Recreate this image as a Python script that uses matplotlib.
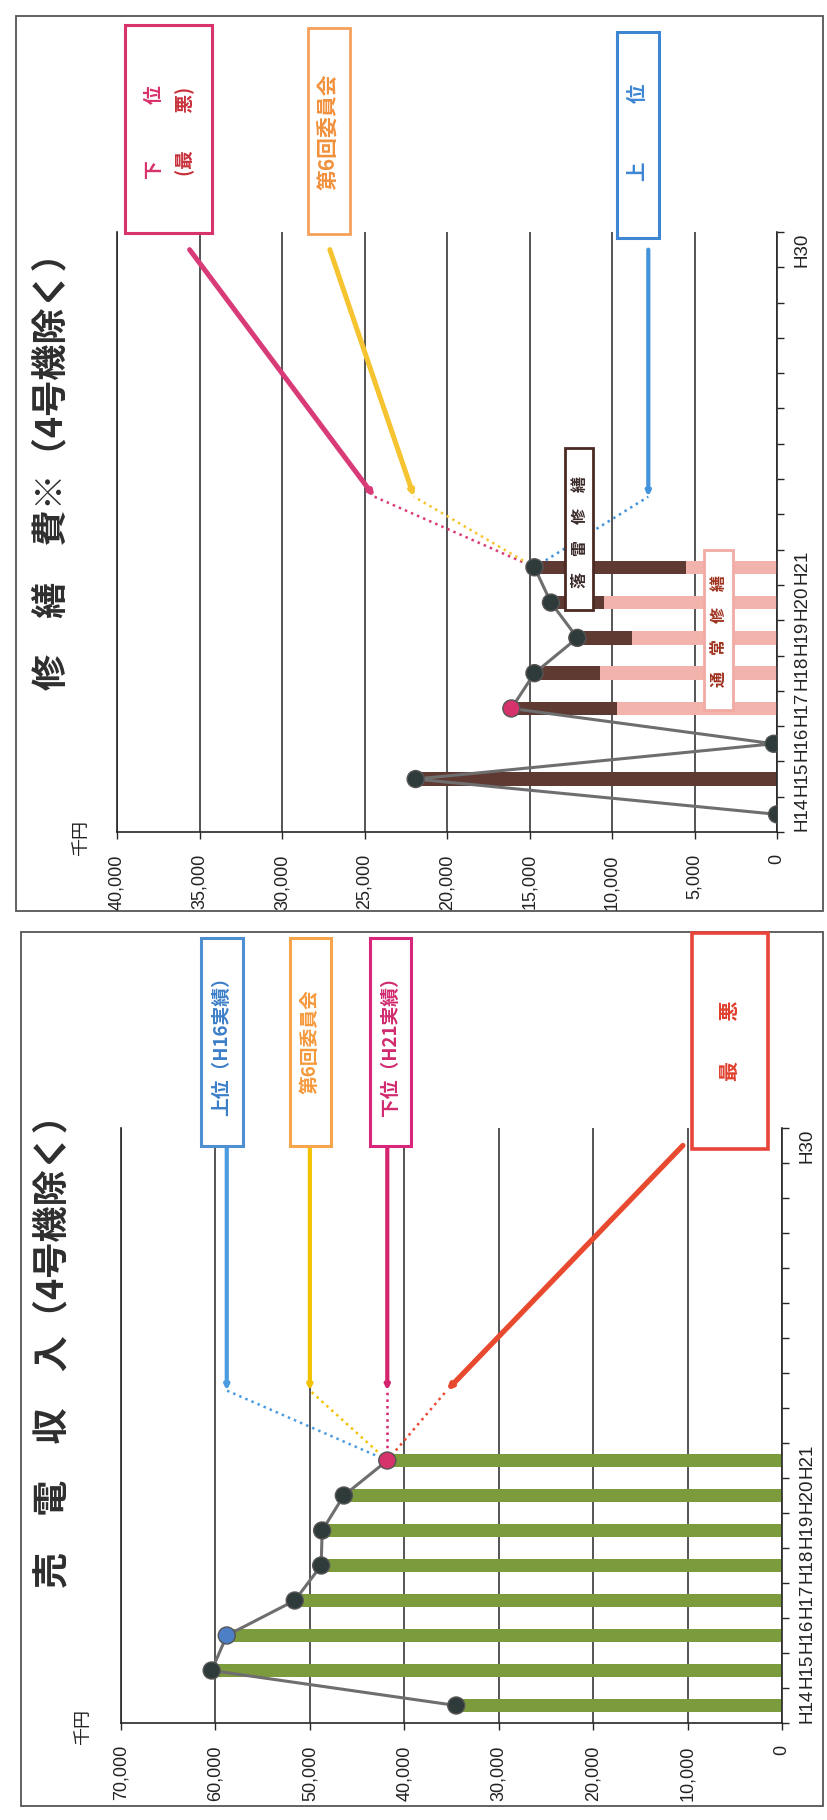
"""
plot.py

Two rotated Excel-style charts from a scanned report page:
  top    : 修繕費 (repair cost, regular + lightning) with H30 projections
  bottom : 売電収入 (power sales income) with H30 projections

    python3 plot.py   ->  out.png
"""

import matplotlib.pyplot as plt
import matplotlib.ticker as mticker
import numpy as np
from matplotlib.patches import Rectangle

W, H = 827, 1820

JP = ["Noto Sans CJK JP", "DejaVu Sans"]
plt.rcParams["font.family"] = ["Liberation Sans", "Noto Sans CJK JP", "DejaVu Sans"]

YEARS = ["H14", "H15", "H16", "H17", "H18", "H19", "H20", "H21", "H22",
         "H23", "H24", "H25", "H26", "H27", "H28", "H29", "H30"]
TICK_LABELS = ["H14", "H15", "H16", "H17", "H18", "H19", "H20", "H21",
               "", "", "", "", "", "", "", "", "H30"]

# 売電収入 (千円), H14-H21 actuals
SALES = [34500, 60400, 58800, 51600, 48800, 48700, 46400, 41800]
SALES_CASES = ["上位（H16実績）", "第6回委員会", "下位（H21実績）", "最　　悪"]
SALES_H23 = [58800, 50000, 41800, 35500]
SALES_H30 = [58800, 50000, 41800, 10500]

# 修繕費 (千円), H14-H21 actuals
REPAIR_REGULAR = [0, 0, 0, 9700, 10700, 8800, 10500, 5500]      # 通常修繕
REPAIR_LIGHTNING = [0, 21900, 200, 6400, 4000, 3300, 3200, 9200]  # 落雷修繕
REPAIR_CASES = ["下位（最悪）", "第6回委員会", "上位"]
REPAIR_H23 = [24400, 22000, 7800]
REPAIR_H30 = [35600, 27100, 7800]

LAST, START, END = 7, 9, 16   # H21, H23, H30 positions on the year axis

INK = "#262626"


def px_rect(left, top, right, bottom):
    return [left / W, 1 - bottom / H, (right - left) / W, (bottom - top) / H]


def frame(fig, left, top, right, bottom, edge, lw, z=5):
    x, y, w, h = px_rect(left, top, right, bottom)
    fig.add_artist(Rectangle((x, y), w, h, transform=fig.transFigure,
                             fc="white", ec=edge, lw=lw, zorder=z))


def vtext(fig, x, y, s, **kw):
    kw.setdefault("ha", "center")
    kw.setdefault("va", "center")
    fig.text(x / W, 1 - y / H, s, rotation=90, family=JP, zorder=8, **kw)


def style_axes(ax, vmax, step):
    n = len(YEARS)
    ax.set_xlim(vmax, 0)
    ax.set_ylim(-0.5, n - 0.5)
    ax.set_xticks(np.arange(0, vmax + 1, step))
    ax.xaxis.set_major_formatter(mticker.FuncFormatter(lambda v, _: f"{v:,.0f}"))
    ax.grid(axis="x", color=INK, lw=1.1)
    ax.set_axisbelow(True)
    ax.spines["top"].set_visible(False)
    for s in ("bottom", "right", "left"):
        ax.spines[s].set_color(INK)
        ax.spines[s].set_linewidth(1.2)
    ax.tick_params(axis="x", direction="out", length=5, width=1, color=INK,
                   pad=11, labelsize=13, labelrotation=90, labelcolor="#222")
    ax.yaxis.tick_right()
    ax.set_yticks(range(n), TICK_LABELS)
    ax.set_yticks(np.arange(-0.5, n), minor=True)
    ax.tick_params(axis="y", which="major", length=0, pad=12, labelsize=13.5,
                   labelrotation=90, labelcolor="#222")
    ax.tick_params(axis="y", which="minor", direction="out", length=5,
                   width=1, color=INK)
    for t in ax.get_yticklabels():
        t.set_va("center")


def projections(ax, last, starts, ends, colors, widths):
    for v0, v1, c, lw in zip(starts, ends, colors, widths):
        ax.plot([last, v0], [LAST, START], ls=":", color=c, lw=1.8, zorder=3)
        ax.annotate("", xy=(v0, START), xytext=(v1, END),
                    arrowprops=dict(arrowstyle="-|>", color=c, lw=lw,
                                    mutation_scale=6, shrinkA=0, shrinkB=0),
                    zorder=3)


def plot_repair(fig):
    ax = fig.add_axes(px_rect(117, 232, 777, 832))
    style_axes(ax, 40000, 5000)
    y = np.arange(len(REPAIR_REGULAR))
    total = np.add(REPAIR_REGULAR, REPAIR_LIGHTNING)
    ax.barh(y, REPAIR_REGULAR, height=0.38, color="#f2b3ac", zorder=2)
    ax.barh(y, REPAIR_LIGHTNING, left=REPAIR_REGULAR, height=0.38,
            color="#5e3a33", zorder=2)
    ax.plot(total, y, color="#6e6e6e", lw=2.2, zorder=4)
    mcol = ["#2f3a3a"] * len(total)
    mcol[3] = "#d6336c"
    ax.scatter(total, y, s=150, c=mcol, edgecolors="#555", lw=1, zorder=5)
    projections(ax, total[-1], REPAIR_H23, REPAIR_H30,
                ["#d93a78", "#f5c430", "#4494dc"], [3.6, 3.6, 3.0])

    # case boxes above the plot
    frame(fig, 125, 25, 212, 233, "#d9336e", 2.2)
    vtext(fig, 155, 132, "下　　　位", color="#d9306b", fontsize=13.5, fontweight="bold")
    vtext(fig, 185, 131, "(最　　悪)", color="#c8323c", fontsize=13.5, fontweight="bold")
    frame(fig, 308, 28, 350, 234, "#f5a05a", 2.0)
    vtext(fig, 328, 132, REPAIR_CASES[1], color="#f2913c", fontsize=15, fontweight="bold")
    frame(fig, 617, 32, 659, 238, "#3d86d4", 2.2)
    vtext(fig, 638, 132, "上　　　位", color="#3d86d4", fontsize=14, fontweight="bold")

    # series labels inside the plot
    frame(fig, 565, 448, 593, 610, "#4a2a22", 2.0)
    vtext(fig, 580, 532, "落　雷　修　繕", color="#3a2a2a", fontsize=11.5,
          fontweight="bold")
    frame(fig, 704, 550, 733, 710, "#f2aaa4", 2.0)
    vtext(fig, 719, 631, "通　常　修　繕", color="#a0321e", fontsize=11.5,
          fontweight="bold")

    vtext(fig, 52, 690, "修　繕　費※（4号機除く）", va="bottom",
          fontsize=26, fontweight="bold", color="#2e2e2e")
    vtext(fig, 81, 838, "千円", fontsize=13, color="#222")


def plot_sales(fig):
    ax = fig.add_axes(px_rect(121, 1128, 782, 1723))
    style_axes(ax, 70000, 10000)
    y = np.arange(len(SALES))
    ax.barh(y, SALES, height=0.38, color="#7b9b3c", zorder=2)
    ax.plot(SALES, y, color="#6e6e6e", lw=2.2, zorder=4)
    mcol = ["#2f3a3a"] * len(SALES)
    mcol[2] = "#4d7fc6"
    mcol[-1] = "#d6336c"
    ax.scatter(SALES, y, s=150, c=mcol, edgecolors="#555", lw=1, zorder=5)
    projections(ax, SALES[-1], SALES_H23, SALES_H30,
                ["#4a9be0", "#f2c200", "#d4246e", "#e84a2f"], [3.0, 3.0, 3.0, 3.8])

    boxes = [(201, 243, "#4d8fd1", "#3c7fc8"),
             (290, 331, "#f7a54a", "#f5993c"),
             (370, 411, "#d9267a", "#d12a6e")]
    for (l, r, edge, tc), name in zip(boxes, SALES_CASES):
        frame(fig, l, 938, r, 1146, edge, 2.2)
        vtext(fig, (l + r) / 2, 1042, name, color=tc, fontsize=13.5, fontweight="bold")
    frame(fig, 692, 933, 768, 1149, "#e8443a", 2.6)
    vtext(fig, 730, 1041, SALES_CASES[3], color="#e0402e", fontsize=14.5, fontweight="bold")

    vtext(fig, 53, 1588, "売　電　収　入（4号機除く）", va="bottom",
          fontsize=26, fontweight="bold", color="#2e2e2e")
    vtext(fig, 83, 1727, "千円", fontsize=13, color="#222")


def main() -> None:
    fig = plt.figure(figsize=(W / 100, H / 100), dpi=100)
    fig.patch.set_facecolor("white")

    # scanned page frames around each chart
    frame(fig, 16, 16, 823, 911, "#555555", 1.3, z=-1)
    frame(fig, 21, 932, 823, 1806, "#555555", 1.3, z=-1)

    plot_repair(fig)
    plot_sales(fig)

    fig.savefig("out.png", dpi=100, facecolor="white")
    plt.close(fig)


if __name__ == "__main__":
    main()
